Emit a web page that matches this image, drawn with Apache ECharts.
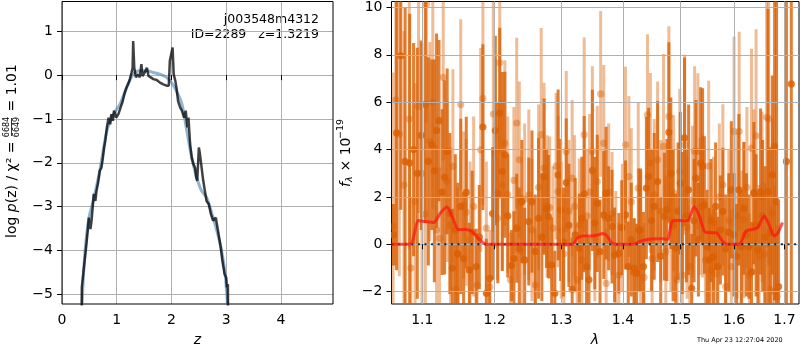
<!DOCTYPE html>
<html>
<head>
<meta charset="utf-8">
<script src="https://cdn.jsdelivr.net/npm/echarts@6/dist/echarts.min.js"></script>
<style>
html, body { margin: 0; padding: 0; background: #fff; }
#chart { width: 800px; height: 350px; }
</style>
</head>
<body>
<div id="chart"></div>
<script>
// ---- left panel: log p(z) ----
const zTicks = [0, 1, 2, 3, 4];
const lnpTicks = [-5, -4, -3, -2, -1, 0, 1];
// [z, log p(z)]
const pzData = [
  [0.359, -5.6], [0.362, -4.84], [0.39, -4.81], [0.40, -4.39], [0.44, -3.93], [0.47, -3.55], [0.49, -3.25],
  [0.50, -3.40], [0.52, -3.51], [0.54, -3.32], [0.56, -3.02], [0.58, -2.71], [0.61, -2.87], [0.63, -2.64],
  [0.66, -2.45], [0.69, -2.18], [0.72, -2.11], [0.74, -1.95], [0.77, -1.65], [0.79, -1.50], [0.82, -1.19],
  [0.83, -1.23], [0.85, -0.97], [0.88, -1.12], [0.90, -0.89], [0.93, -1.04], [0.95, -0.81], [0.99, -0.97],
  [1.03, -0.89], [1.07, -0.74], [1.11, -0.59], [1.14, -0.43], [1.18, -0.28], [1.22, -0.17], [1.24, -0.09],
  [1.27, 0.06], [1.29, 0.17], [1.30, 0.78], [1.32, 0.17], [1.35, -0.05], [1.39, 0.02], [1.42, -0.05],
  [1.45, 0.25], [1.47, -0.02], [1.51, 0.06], [1.55, 0.17], [1.58, -0.02], [1.62, -0.05], [1.67, -0.09],
  [1.73, -0.11], [1.79, -0.17], [1.85, -0.21], [1.91, -0.24], [1.95, -0.24], [1.97, 0.33], [2.00, 0.33],
  [2.02, 0.63], [2.04, 0.02], [2.07, -0.13], [2.09, -0.28], [2.12, -0.59], [2.16, -0.74], [2.19, -0.81],
  [2.23, -0.97], [2.26, -0.81], [2.29, -1.19], [2.31, -0.97], [2.34, -1.57], [2.37, -1.88], [2.40, -2.03],
  [2.43, -2.11], [2.45, -2.33], [2.47, -2.41], [2.50, -1.65], [2.52, -1.80], [2.55, -2.11], [2.58, -2.41],
  [2.61, -2.64], [2.64, -2.87], [2.68, -2.94], [2.72, -3.17], [2.76, -3.32], [2.81, -3.25], [2.83, -3.40],
  [2.86, -3.63], [2.90, -3.93], [2.93, -4.24], [2.97, -4.54], [3.00, -4.62], [3.01, -4.84], [3.03, -4.77],
  [3.035, -5.6]
];
const pzFit = [
  [0.355, -5.6], [0.40, -4.39], [0.45, -3.63], [0.50, -3.21], [0.57, -2.87], [0.69, -2.18], [0.82, -1.27],
  [0.94, -0.89], [1.06, -0.66], [1.18, -0.28], [1.30, 0.02], [1.42, 0.10], [1.55, 0.10], [1.67, 0.06],
  [1.79, 0.02], [1.91, -0.05], [2.00, -0.17], [2.09, -0.36], [2.19, -0.66], [2.28, -1.27], [2.37, -1.88],
  [2.46, -2.33], [2.55, -2.64], [2.64, -2.79], [2.76, -3.25], [2.89, -3.86], [2.98, -4.54], [3.04, -5.6]
];

// ---- right panel: spectrum ----
const lamTicks = [1.1, 1.2, 1.3, 1.4, 1.5, 1.6, 1.7];
const fluxTicks = [-2, 0, 2, 4, 6, 8, 10];
// [lambda, flux, err]
const beamA = [
  [1.0625, 0.4, 1.3], [1.0665, 4.7, 5.8], [1.0719, 7.96, 6.5], [1.0775, 3.5, 6.5], [1.0834, 3.43, 6.3],
  [1.0885, 4.0, 4.5], [1.0934, 3.0, 5.3], [1.0985, 4.6, 4.0], [1.1040, 5.9, 5.0], [1.1080, 3.5, 4.4],
  [1.1125, 4.2, 3.6], [1.1160, 3.1, 4.7], [1.1190, 4.8, 4.1], [1.1223, 5.22, 3.4], [1.1265, 2.2, 3.5],
  [1.1299, 2.83, 4.1], [1.1334, 3.92, 3.5], [1.1370, 1.3, 3.4], [1.1405, -1.0, 2.5], [1.1445, 0.6, 3.2],
  [1.1480, -0.4, 3.0], [1.1520, 1.6, 3.7], [1.1560, -0.6, 2.8], [1.1597, 2.19, 3.2], [1.1640, -1.09, 2.0],
  [1.1680, 0.5, 2.6], [1.1737, -0.94, 1.6], [1.1780, 0.3, 2.2], [1.1831, 4.95, 3.5], [1.1880, -2.07, 2.3],
  [1.1927, -1.44, 1.4], [1.1970, 1.3, 2.8], [1.2009, 4.8, 4.0], [1.2045, 2.16, 3.8], [1.2073, 5.54, 3.6],
  [1.2110, 3.07, 4.2], [1.2147, 3.78, 3.5], [1.2190, 1.2, 2.6], [1.2246, -0.9, 1.5], [1.2280, -0.6, 2.0],
  [1.2322, 0.68, 2.3], [1.2360, -0.2, 2.6], [1.2398, 1.8, 2.6], [1.2440, -0.66, 2.2], [1.2502, 0.96, 2.7],
  [1.2550, 1.8, 3.0], [1.2600, -0.3, 2.4], [1.2650, 1.1, 3.4], [1.2700, 0.3, 2.7], [1.2734, 2.86, 3.3],
  [1.2770, 1.5, 2.5], [1.2800, 1.17, 2.6], [1.2850, -0.87, 2.0], [1.2900, -2.07, 1.8], [1.2951, 2.93, 3.6],
  [1.2990, 1.45, 3.0], [1.3035, 0.1, 2.3], [1.3078, 2.61, 2.7], [1.3120, 0.8, 2.6], [1.3171, -1.9, 2.2],
  [1.3220, 0.4, 2.4], [1.3285, -0.17, 2.3], [1.3325, 1.1, 2.6], [1.3363, 2.12, 3.3], [1.3400, -0.94, 2.0],
  [1.3440, -1.5, 1.8], [1.3495, 3.12, 3.4], [1.3535, 0.9, 2.8], [1.3575, 1.73, 2.9], [1.3620, -0.31, 2.2],
  [1.3681, 1.24, 2.7], [1.3720, 2.16, 2.8], [1.3762, 1.1, 2.2], [1.3818, 0.75, 2.4], [1.3860, -0.45, 2.0],
  [1.3931, -0.38, 1.7], [1.3980, 0.7, 2.0], [1.4043, 1.24, 2.3], [1.4090, -0.94, 1.9], [1.4141, 0.2, 2.4],
  [1.4190, -1.0, 2.1], [1.4232, -1.23, 2.1], [1.4270, 0.6, 2.6], [1.4302, 0.6, 2.6], [1.4350, -0.94, 2.3],
  [1.4400, 2.37, 3.0], [1.4440, 2.86, 2.9], [1.4490, 1.0, 3.0], [1.4537, 1.6, 3.1], [1.4596, 2.65, 3.4],
  [1.4650, -0.5, 2.5], [1.4716, 1.17, 2.7], [1.4760, 1.45, 3.0], [1.4795, 4.73, 3.8], [1.4830, 3.0, 3.2],
  [1.4870, 0.8, 3.2], [1.4915, -0.17, 2.3], [1.4960, 1.4, 2.9], [1.5000, 2.58, 3.0], [1.5037, 0.9, 3.0],
  [1.5075, 4.49, 3.4], [1.5110, 1.2, 2.8], [1.5150, 2.3, 3.6], [1.5208, -1.86, 2.3], [1.5250, 1.0, 2.6],
  [1.5283, 2.79, 3.3], [1.5330, 0.2, 2.4], [1.5370, 3.43, 3.2], [1.5407, 3.29, 3.3], [1.5440, 1.66, 2.9],
  [1.5490, -0.1, 2.4], [1.5530, -0.66, 2.2], [1.5564, 1.0, 2.6], [1.5610, -0.52, 2.0], [1.5650, 1.6, 2.7],
  [1.5691, -0.94, 2.1], [1.5740, 0.6, 2.3], [1.5787, 1.38, 2.7], [1.5840, -0.2, 2.3], [1.5900, 0.5, 2.5],
  [1.5948, 2.3, 2.9], [1.6000, 0.4, 2.6], [1.6050, -0.5, 2.2], [1.6094, 2.3, 3.2], [1.6140, -0.1, 2.4],
  [1.6191, 1.52, 2.8], [1.6240, 0.4, 2.6], [1.6289, -0.1, 2.2], [1.6340, -1.16, 2.1], [1.6387, 2.16, 3.0],
  [1.6430, 0.8, 3.0], [1.6466, -0.24, 2.4], [1.6519, 2.23, 3.5], [1.6560, 1.2, 3.2], [1.6610, 0.3, 3.0],
  [1.6666, 2.23, 7.7], [1.6710, 0.5, 3.6], [1.6753, 2.93, 4.2], [1.6800, 4.13, 6.5], [1.6840, 1.8, 8.5],
  [1.6880, -1.79, 3.5], [1.7040, 3.5, 10.0], [1.7141, 6.77, 9.5]
];
const beamB = [
  [1.0620, 0.75, 6.5], [1.0655, 6.1, 7.0], [1.0700, 4.65, 6.0], [1.0760, 2.5, 6.5], [1.0829, 5.29, 5.5],
  [1.0850, -1.0, 3.0], [1.0905, 1.8, 5.0], [1.0950, 5.82, 4.5], [1.0995, 3.0, 5.5], [1.1040, 1.28, 4.5],
  [1.1055, 10.13, 5.0], [1.1100, 4.34, 4.2], [1.1140, 6.0, 4.5], [1.1190, 0.6, 3.6], [1.1230, 0.25, 3.0],
  [1.1280, 7.05, 3.5], [1.1334, 2.65, 3.4], [1.1380, 0.8, 3.3], [1.1412, 3.29, 4.1], [1.1450, -1.9, 2.5],
  [1.1480, -0.4, 2.8], [1.1520, 5.9, 3.6], [1.1560, 1.66, 3.1], [1.1597, 1.35, 3.1], [1.1650, 0.2, 3.3],
  [1.1700, 1.6, 3.8], [1.1750, -1.72, 2.2], [1.1800, 3.99, 4.3], [1.1831, 6.16, 4.5], [1.1880, 0.68, 2.8],
  [1.1930, -1.8, 2.4], [1.1980, 5.5, 5.0], [1.2009, 3.85, 4.0], [1.2040, 1.1, 2.6], [1.2073, 7.66, 3.8],
  [1.2110, 2.5, 3.6], [1.2147, 4.27, 3.5], [1.2190, 2.1, 3.3], [1.2230, -1.5, 2.0], [1.2280, 2.7, 3.1],
  [1.2322, 5.12, 3.6], [1.2360, 3.57, 3.3], [1.2398, -0.31, 2.4], [1.2440, 1.9, 3.2], [1.2502, 2.09, 3.6],
  [1.2550, 0.6, 3.0], [1.2600, -1.72, 2.4], [1.2650, 2.4, 3.5], [1.2690, 4.63, 4.5], [1.2734, 3.22, 3.6],
  [1.2780, 1.6, 3.0], [1.2820, 1.55, 3.0], [1.2870, 0.68, 2.6], [1.2920, 3.3, 3.1], [1.2951, 2.23, 3.2],
  [1.3000, 0.6, 2.9], [1.3040, -0.4, 2.5], [1.3078, 3.92, 3.4], [1.3120, 1.4, 3.0], [1.3171, 2.79, 3.3],
  [1.3210, 1.6, 3.0], [1.3250, -1.5, 2.4], [1.3285, 0.82, 2.8], [1.3325, -0.66, 2.6], [1.3363, 4.63, 4.1],
  [1.3410, 1.2, 2.8], [1.3450, 2.2, 3.3], [1.3495, 3.92, 3.6], [1.3535, 0.3, 2.7], [1.3575, 2.65, 3.2],
  [1.3630, 6.35, 3.5], [1.3681, 4.27, 3.3], [1.3720, -1.65, 2.3], [1.3762, 2.2, 2.9], [1.3818, 1.3, 2.6],
  [1.3880, -0.15, 2.4], [1.3931, -1.3, 2.2], [1.3990, 0.7, 2.7], [1.4043, 4.2, 3.3], [1.4100, 2.86, 3.4],
  [1.4141, 1.8, 3.1], [1.4190, -1.2, 2.3], [1.4260, 2.37, 3.6], [1.4300, 0.3, 2.8], [1.4360, -1.4, 2.3],
  [1.4419, 5.47, 3.4], [1.4470, 3.43, 3.8], [1.4500, -0.6, 2.6], [1.4537, 2.09, 3.2], [1.4596, 3.57, 3.3],
  [1.4650, 1.4, 3.0], [1.4700, 4.13, 3.9], [1.4740, -0.3, 3.2], [1.4795, 5.4, 3.8], [1.4830, 1.0, 3.0],
  [1.4880, 2.16, 3.3], [1.4940, -1.5, 2.6], [1.4990, 3.07, 3.5], [1.5037, -1.3, 2.6], [1.5080, 4.2, 3.8],
  [1.5120, 0.7, 3.0], [1.5170, -0.94, 2.6], [1.5220, 1.8, 3.2], [1.5260, 3.92, 3.6], [1.5320, 3.92, 3.3],
  [1.5360, 1.6, 2.9], [1.5407, 1.6, 3.0], [1.5460, -0.66, 2.6], [1.5520, 3.3, 3.6], [1.5560, -1.1, 2.4],
  [1.5610, 0.9, 2.8], [1.5660, -1.25, 2.6], [1.5720, 2.0, 3.1], [1.5787, 2.51, 3.4], [1.5840, -1.79, 2.5],
  [1.5900, 1.0, 3.0], [1.5948, -0.94, 2.4], [1.6000, 4.77, 4.0], [1.6060, 1.2, 3.5], [1.6100, 4.77, 4.2],
  [1.6150, -0.1, 3.2], [1.6191, 1.03, 3.3], [1.6250, 2.4, 3.4], [1.6300, -1.3, 2.6], [1.6340, 4.06, 4.2],
  [1.6387, 2.2, 3.5], [1.6430, 4.58, 4.5], [1.6490, -0.5, 3.0], [1.6550, 2.0, 3.6], [1.6600, -0.4, 3.0],
  [1.6640, 5.36, 5.5], [1.6680, 5.3, 6.2], [1.6720, -1.9, 3.5], [1.6760, 1.31, 4.0], [1.6800, -2.0, 4.5],
  [1.6850, -2.2, 3.0]
];
const modelLam = [1.060, 1.084, 1.095, 1.104, 1.115, 1.124, 1.133, 1.140, 1.149, 1.158, 1.167, 1.174, 1.181, 1.188,
  1.317, 1.325, 1.333, 1.349, 1.358, 1.366, 1.374, 1.382, 1.394, 1.416, 1.428, 1.445, 1.468, 1.477, 1.486, 1.498,
  1.513, 1.525, 1.535, 1.544, 1.553, 1.566, 1.578, 1.588, 1.610, 1.623, 1.636, 1.646, 1.659, 1.669, 1.679, 1.686, 1.696];
const modelFlux = [0, 0, 1.0, 0.96, 0.92, 1.31, 1.57, 1.18, 0.62, 0.62, 0.55, 0.34, 0.13, 0,
  0, 0.25, 0.35, 0.35, 0.39, 0.46, 0.34, 0.04, 0, 0, 0.11, 0.21, 0.23, 0.21, 0.99, 1.0,
  0.99, 1.59, 1.18, 0.55, 0.49, 0.49, 0.13, 0, 0, 0.55, 0.63, 0.70, 1.18, 0.82, 0.35, 0.46, 0.92];

const FONT = '"DejaVu Sans", sans-serif';
const minus = v => String(v).replace('-', '\u2212');

function errbar(color) {
  return function (params, api) {
    const x = api.value(0), y = api.value(1), e = api.value(2);
    const hi = api.coord([x, y + e]);
    const lo = api.coord([x, y - e]);
    const c = api.coord([x, y]);
    return {
      type: 'group',
      children: [
        { type: 'line', shape: { x1: hi[0], y1: hi[1], x2: lo[0], y2: lo[1] }, style: { stroke: color, lineWidth: 3 } },
        { type: 'circle', shape: { cx: c[0], cy: c[1], r: 3.6 }, style: { fill: color } }
      ]
    };
  };
}

function axisCommon(ticks, fmt) {
  return {
    axisLine: { show: false },
    axisTick: { show: true, length: 5, customValues: ticks, lineStyle: { color: '#000', width: 1 } },
    axisLabel: { customValues: ticks, margin: 9, color: '#000', fontSize: 14, fontFamily: FONT, formatter: fmt },
    splitLine: { show: true, lineStyle: { color: '#b0b0b0', width: 1 } }
  };
}

const chart = echarts.init(document.getElementById('chart'), null, { renderer: 'canvas' });
chart.setOption({
  animation: false,
  backgroundColor: '#fff',
  grid: [
    { left: 62, top: 1.5, width: 271, height: 302.5, show: true, z: 1, borderColor: '#000', borderWidth: 1 },
    { left: 391.5, top: 1.5, width: 407.5, height: 302.5, show: true, z: 1, borderColor: '#000', borderWidth: 1 }
  ],
  xAxis: [
    Object.assign({ type: 'value', gridIndex: 0, min: 0, max: 4.95 }, axisCommon(zTicks, v => minus(v))),
    Object.assign({ type: 'log', gridIndex: 1, min: 1.06, max: 1.73, z: 3 }, axisCommon(lamTicks, v => v.toFixed(1)))
  ],
  yAxis: [
    Object.assign({ type: 'value', gridIndex: 0, min: -5.22, max: 1.68 }, axisCommon(lnpTicks, v => minus(v))),
    Object.assign({ type: 'value', gridIndex: 1, min: -2.52, max: 10.25, z: 3 }, axisCommon(fluxTicks, v => minus(v)))
  ],
  series: [
    {
      type: 'line', xAxisIndex: 0, yAxisIndex: 0, data: pzFit, smooth: 0.3, showSymbol: false,
      lineStyle: { color: 'rgba(70,130,180,0.6)', width: 3 }, z: 2
    },
    {
      type: 'line', xAxisIndex: 0, yAxisIndex: 0, data: pzData, showSymbol: false,
      lineStyle: { color: 'rgba(0,0,0,0.75)', width: 2.5 }, z: 3
    },
    {
      type: 'custom', xAxisIndex: 1, yAxisIndex: 1, data: beamB, clip: true, z: 2,
      renderItem: errbar('rgba(217,95,2,0.42)')
    },
    {
      type: 'custom', xAxisIndex: 1, yAxisIndex: 1, data: beamA, clip: true, z: 2,
      renderItem: errbar('rgba(217,95,2,0.8)')
    },
    {
      type: 'line', xAxisIndex: 1, yAxisIndex: 1, data: [[1.06, 0], [1.73, 0]], showSymbol: false, z: 4,
      lineStyle: { color: 'rgba(0,0,0,0.8)', width: 2, type: [2, 4.6] }
    },
    {
      type: 'line', xAxisIndex: 1, yAxisIndex: 1, showSymbol: false, z: 5, smooth: 0.25,
      data: modelLam.map((l, i) => [l, modelFlux[i]]),
      lineStyle: { color: 'rgba(255,20,20,0.72)', width: 3 }
    }
  ],
  graphic: [
    { type: 'text', x: 319, y: 20, style: { text: 'j003548m4312', fill: '#000', font: '12.5px ' + FONT, align: 'right', verticalAlign: 'middle' } },
    { type: 'text', x: 319, y: 34.5, style: { text: 'ID=2289   z=1.3219', fill: '#000', font: '12.5px ' + FONT, align: 'right', verticalAlign: 'middle' } },
    { type: 'text', x: 197.5, y: 340, style: { text: 'z', fill: '#000', font: 'italic 14px ' + FONT, align: 'center', verticalAlign: 'middle' } },
    { type: 'text', x: 595, y: 340, style: { text: 'λ', fill: '#000', font: 'italic 14px ' + FONT, align: 'center', verticalAlign: 'middle' } },
    { type: 'text', x: 697, y: 340, style: { text: 'Thu Apr 23 12:27:04 2020', fill: '#000', font: '6.5px ' + FONT, align: 'left', verticalAlign: 'middle' } },
    {
      type: 'group', x: 12, y: 238, rotation: Math.PI / 2,
      children: [
        {
          type: 'text', x: 0, y: 0,
          style: {
            text: 'log {i|p}(z) / χ² =', fill: '#000', font: '14px ' + FONT, align: 'left', verticalAlign: 'middle',
            rich: { i: { fontStyle: 'italic', fontSize: 14, fontFamily: 'DejaVu Sans' } }
          }
        },
        { type: 'text', x: 111, y: -1, style: { text: '6684', fill: '#000', font: '8px ' + FONT, align: 'center', verticalAlign: 'bottom' } },
        { type: 'line', shape: { x1: 102, y1: -0.5, x2: 120, y2: -0.5 }, style: { stroke: '#000', lineWidth: 0.8 } },
        { type: 'text', x: 111, y: 0.5, style: { text: '6649', fill: '#000', font: '8px ' + FONT, align: 'center', verticalAlign: 'top' } },
        { type: 'text', x: 122, y: 0, style: { text: ' = 1.01', fill: '#000', font: '14px ' + FONT, align: 'left', verticalAlign: 'middle' } }
      ]
    },
    {
      type: 'group', x: 346, y: 187, rotation: Math.PI / 2,
      children: [
        { type: 'text', x: 0, y: 0, style: { text: 'f', fill: '#000', font: 'italic 14px ' + FONT, align: 'left', verticalAlign: 'middle' } },
        { type: 'text', x: 5, y: 4, style: { text: 'λ', fill: '#000', font: 'italic 9.5px ' + FONT, align: 'left', verticalAlign: 'middle' } },
        { type: 'text', x: 11, y: 0, style: { text: ' × 10', fill: '#000', font: '14px ' + FONT, align: 'left', verticalAlign: 'middle' } },
        { type: 'text', x: 48, y: -5, style: { text: '−19', fill: '#000', font: '9.5px ' + FONT, align: 'left', verticalAlign: 'middle' } }
      ]
    }
  ]
});
</script>
</body>
</html>
